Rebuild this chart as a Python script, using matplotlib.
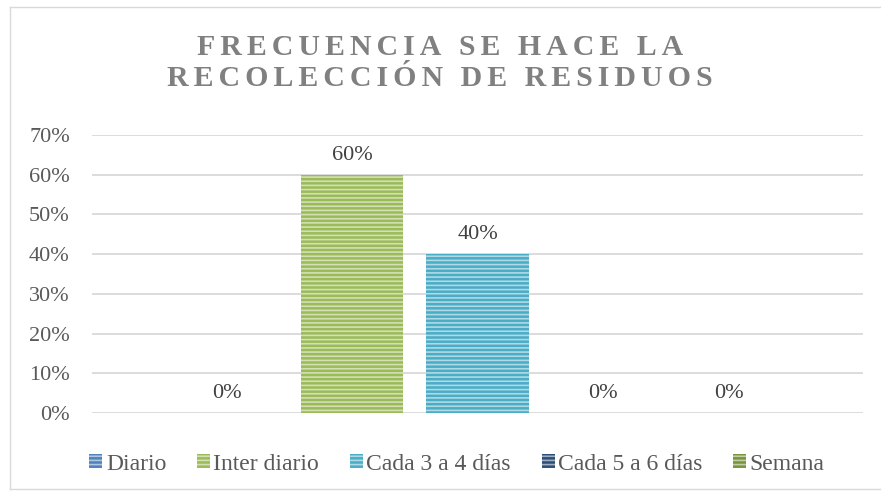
import matplotlib
matplotlib.use('Agg')
import matplotlib.pyplot as plt
import numpy as np
from matplotlib.colors import to_rgb
from matplotlib.lines import Line2D

# ---- data ----
categories = ['Diario', 'Inter diario', 'Cada 3 a 4 días', 'Cada 5 a 6 días', 'Semana']
values = [0.0, 0.60, 0.40, 0.0, 0.0]
value_labels = ['0%', '60%', '40%', '0%', '0%']
yticks = [0.0, 0.1, 0.2, 0.3, 0.4, 0.5, 0.6, 0.7]
ytick_labels = ['0%', '10%', '20%', '30%', '40%', '50%', '60%', '70%']
title_lines = ['FRECUENCIA SE HACE LA', 'RECOLECCIÓN DE RESIDUOS']
colors = ['#4F81BD', '#9BBB59', '#4BACC6', '#2C4D75', '#77933C']

plt.rcParams['font.family'] = ['Liberation Serif', 'DejaVu Serif']
plt.rcParams['hatch.linewidth'] = 1.2

W, H = 881, 495
fig = plt.figure(figsize=(W / 100, H / 100), dpi=100)
ax = fig.add_axes([92 / W, 1 - 413 / H, (863 - 92) / W, (413 - 135) / H])

def lighten(c, f=0.55):
    r, g, b = to_rgb(c)
    return (r + (1 - r) * f, g + (1 - g) * f, b + (1 - b) * f)

x = np.arange(len(categories))
handles = []
for i, (cat, v, col) in enumerate(zip(categories, values, colors)):
    b = ax.bar(x[i], v, width=0.82, color=col, edgecolor=lighten(col),
               linewidth=0, hatch='----', label=cat, zorder=2)
    handles.append(b)
    ax.annotate(value_labels[i], (x[i], v), xytext=(0, 7), textcoords='offset points',
                ha='center', va='bottom', fontsize=16, color='#404040')

ax.set_xlim(2 - 3.072, 2 + 3.072)
ax.set_ylim(0, 0.7)
ax.set_yticks(yticks)
ax.set_yticklabels(ytick_labels, fontsize=16, color='#595959')
ax.set_xticks([])
ax.tick_params(axis='y', length=0, pad=16)
for s in ax.spines.values():
    s.set_visible(False)
ax.grid(axis='y', color='#D9D9D9', linewidth=1.3, zorder=0)
ax.set_axisbelow(True)

# letter-spaced title (six-per-em spaces between letters)
sp = '\u2006'
title = '\n'.join(sp.join(line) for line in title_lines)
fig.text(440 / W, 1 - 34 / H, title, ha='center', va='top', fontsize=21.5,
         fontweight='bold', color='#808080', linespacing=1.2)

fig.legend(handles=handles, labels=categories, loc='center',
           bbox_to_anchor=(457 / W, 1 - 464 / H), ncol=5, frameon=False,
           fontsize=17, handlelength=0.55, handleheight=0.55, handletextpad=0.15,
           columnspacing=1.3, labelcolor='#595959', borderaxespad=0)

# chart-area border (right edge lies outside the image)
bc = '#D9D9D9'
for xs, ys in [((10, 10), (7, 489)), ((10, 881), (7, 7)), ((10, 881), (489, 489))]:
    fig.add_artist(Line2D([v / W for v in xs], [1 - v / H for v in ys],
                          transform=fig.transFigure, color=bc, linewidth=1.0))

fig.savefig('out.png', dpi=100)
